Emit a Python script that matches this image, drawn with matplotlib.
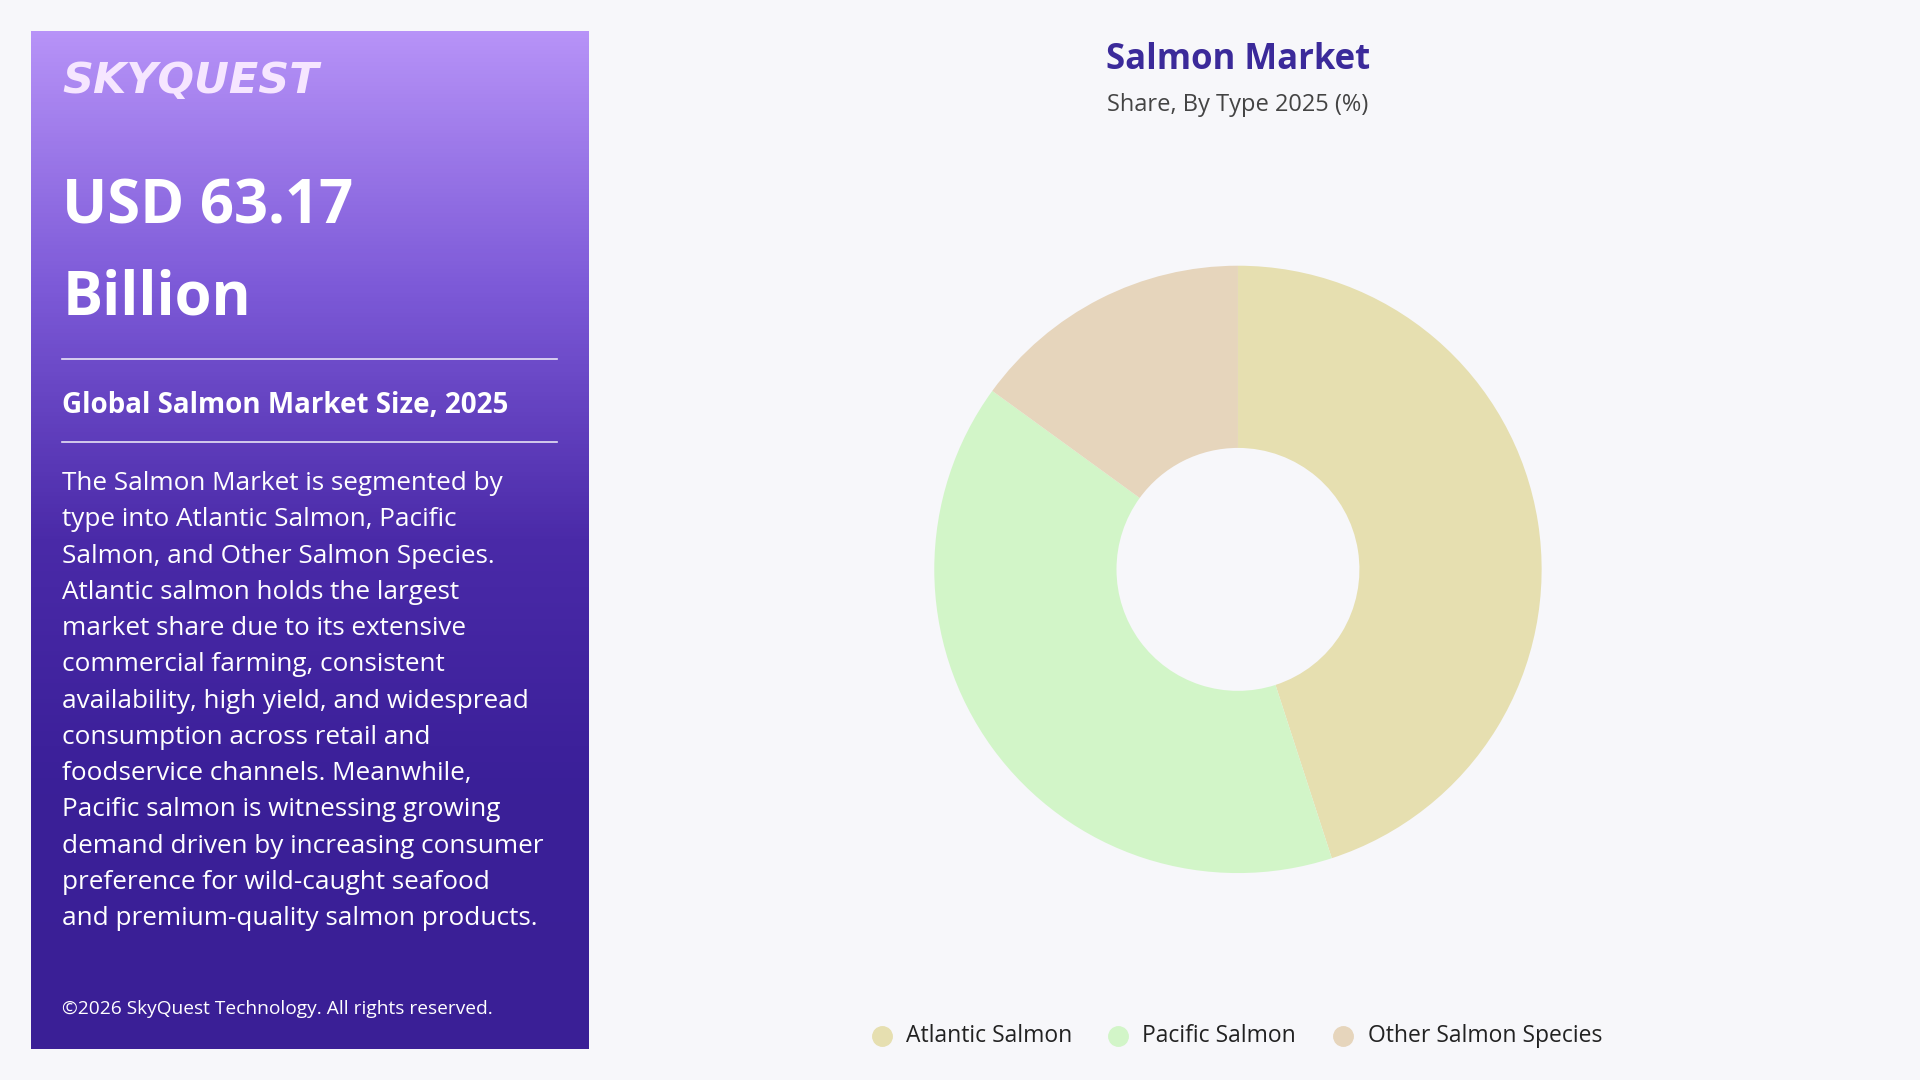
import numpy as np
import matplotlib.pyplot as plt
from matplotlib.colors import LinearSegmentedColormap

plt.rcParams['font.family'] = ['Open Sans', 'DejaVu Sans']

# data
types = ['Atlantic Salmon', 'Pacific Salmon', 'Other Salmon Species']
shares = [45, 40, 15]
colors = ['#e6dfb0', '#d2f5c8', '#e6d5bc']

paragraph = [
    "The Salmon Market is segmented by",
    "type into Atlantic Salmon, Pacific",
    "Salmon, and Other Salmon Species.",
    "Atlantic salmon holds the largest",
    "market share due to its extensive",
    "commercial farming, consistent",
    "availability, high yield, and widespread",
    "consumption across retail and",
    "foodservice channels. Meanwhile,",
    "Pacific salmon is witnessing growing",
    "demand driven by increasing consumer",
    "preference for wild-caught seafood",
    "and premium-quality salmon products.",
]

W, H = 1568, 882  # reference pixel grid used for placement
fig = plt.figure(figsize=(19.2, 10.8), dpi=100, facecolor='#f7f7fa')

def fx(x): return x / W
def fy(y): return 1 - y / H

# left panel with gradient
panel = fig.add_axes([fx(25), fy(857), fx(480) - fx(25), (857 - 25) / H])
cmap = LinearSegmentedColormap.from_list('p', ['#b793f8', '#7d5ad8', '#4a2aa8', '#3a1f98', '#3b1f96'])
grad = np.linspace(0, 1, 256).reshape(-1, 1)
panel.imshow(grad, aspect='auto', cmap=cmap, extent=[0, 1, 1, 0])
panel.set_axis_off()

fig.text(fx(51), fy(66), 'SKYQUEST', fontsize=31, fontweight='bold', style='italic',
         color='#f6e6ff', va='center', family=['DejaVu Sans'])
fig.text(fx(51), fy(170), 'USD 63.17', fontsize=43, fontweight='bold', color='white', va='center')
fig.text(fx(51), fy(244), 'Billion', fontsize=43, fontweight='bold', color='white', va='center')
fig.add_artist(plt.Line2D([fx(51), fx(455)], [fy(293), fy(293)], color='white', lw=1.2, alpha=0.85))
fig.text(fx(51), fy(331), 'Global Salmon Market Size, 2025', fontsize=20, fontweight='bold',
         color='white', va='center')
fig.add_artist(plt.Line2D([fx(51), fx(455)], [fy(361), fy(361)], color='white', lw=1.2, alpha=0.85))
for i, line in enumerate(paragraph):
    fig.text(fx(51), fy(395 + i * 29.6), line, fontsize=18.8, color='white', va='center')
fig.text(fx(51), fy(824), '©2026 SkyQuest Technology. All rights reserved.', fontsize=13.8,
         color='white', va='center')

# titles
fig.text(fx(1011), fy(49), 'Salmon Market', fontsize=25, fontweight='bold', color='#3b2a9a',
         ha='center', va='center')
fig.text(fx(1011), fy(86), 'Share, By Type 2025 (%)', fontsize=17, color='#444444',
         ha='center', va='center')

# donut
r = 248
ax = fig.add_axes([fx(1011 - r), fy(465 + r), 2 * r / W, 2 * r / H])
ax.pie(shares, colors=colors, startangle=90, counterclock=False,
       wedgeprops=dict(width=0.6, edgecolor='none'))
ax.set_xlim(-1, 1)
ax.set_ylim(-1, 1)
ax.set_axis_off()

# legend
for x, name, c in zip([720, 913, 1097], types, colors):
    fig.add_artist(plt.Line2D([fx(x)], [fy(846)], marker='o', markersize=14, color=c, lw=0))
    fig.text(fx(x + 20), fy(846), name, fontsize=16.5, color='#222222', va='center')

fig.savefig('out.png', dpi=100, facecolor=fig.get_facecolor())
